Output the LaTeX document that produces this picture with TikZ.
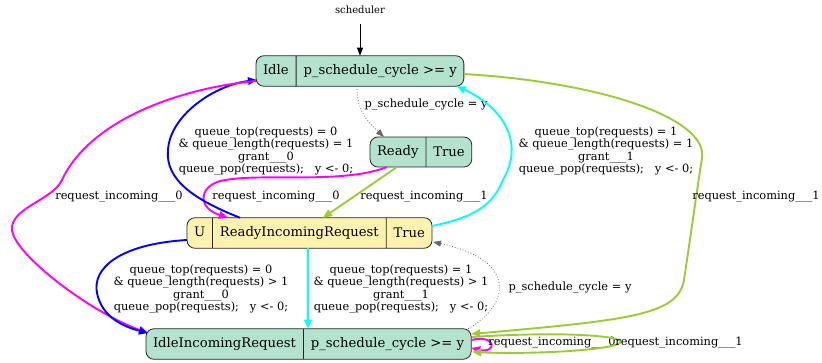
\documentclass[tikz,border=0pt]{standalone}
\usepackage{fontspec}
\setmainfont{DejaVu Serif}
\usetikzlibrary{shapes.multipart,arrows.meta,calc}

\definecolor{stategreen}{HTML}{B3E2CD}
\definecolor{stateyellow}{HTML}{FFF2AE}
\definecolor{lime}{HTML}{9ACD32}
\definecolor{tmagenta}{HTML}{FF00FF}
\definecolor{tblue}{HTML}{0000FF}
\definecolor{tcyan}{HTML}{00FFFF}

\begin{document}
\begin{tikzpicture}[x=1pt,y=-1pt,inner sep=0pt,outer sep=0pt,
state/.style={draw=black!85,line width=0.8pt,rectangle split,rectangle split horizontal,rectangle split parts=2,rounded corners=8pt,inner xsep=7pt,inner ysep=8.5pt,text height=9.5pt,text depth=3.5pt,font=\fontsize{13.2}{15}\selectfont},
lbl/.style={align=center,font=\fontsize{11.4}{12.3}\selectfont},
tr/.style={line width=1.9pt,-{Triangle[length=9pt,width=7.5pt]}},
guard/.style={dotted,line width=0.8pt,black!60,-{Triangle[length=8pt,width=6pt]}}]
\useasboundingbox (0,0) rectangle (822,362);

% states
\draw (256,71) node[state,fill=stategreen,anchor=west] (idle) {Idle\nodepart{two}p\_schedule\_cycle >= y};
\draw (370,152) node[state,fill=stategreen,anchor=west] (ready) {Ready\nodepart{two}True};
\draw (187,233) node[state,fill=stateyellow,anchor=west,rectangle split parts=3] (rir) {U\nodepart{two}ReadyIncomingRequest\nodepart{three}True};
\draw (146,344) node[state,fill=stategreen,anchor=west] (iir) {IdleIncomingRequest\nodepart{two}p\_schedule\_cycle >= y};
\draw (360,10) node[font=\fontsize{10}{12}\selectfont] (sched) {scheduler};

% entry
\draw[line width=0.8pt,-{Triangle[length=8pt,width=6pt]}] (sched.south) ++(0,10) -- (sched.south |- idle.north);

% transitions
\draw[guard] ($(idle.south)+(-3,0)$) .. controls (357,112) and (368,122) .. ($(ready.north west)+(14,0)$);
\draw (426,105) node[lbl] (g1) {p\_schedule\_cycle = y};

\draw[tr,tmagenta] ($(ready.south west)+(17,0)$) .. controls (340,185) and (260,172) .. (220,181) .. controls (198,188) and (198,208) .. ($(rir.north west)+(41,0)$);
\draw (276,197) node[lbl] (m1) {request\_incoming\_\_\_0};
\draw[tr,lime] ($(ready.south west)+(27,0)$) -- ($(rir.north west)+(136,0)$);
\draw (424,197) node[lbl] (n1) {request\_incoming\_\_\_1};

\draw[tr,tblue] ($(rir.north west)+(53,0)$) .. controls (195,200) and (165,180) .. (168,150) .. controls (170,115) and (215,85) .. ($(idle.west)+(1,9)$);
\draw (266,151) node[lbl] (b1) {queue\_top(requests) = 0\\\& queue\_length(requests) = 1\\grant\_\_\_0\\queue\_pop(requests);\ \ \ y <- 0;};
\draw[tr,tcyan] ($(rir.east)+(0,-7)$) .. controls (470,218) and (492,208) .. (503,180) .. controls (526,140) and (500,106) .. ($(idle.south east)+(-7,0)$);
\draw (606,151) node[lbl] (c1) {queue\_top(requests) = 1\\\& queue\_length(requests) = 1\\grant\_\_\_1\\queue\_pop(requests);\ \ \ y <- 0;};

\draw[tr,lime] ($(idle.east)+(0,3)$) .. controls (600,82) and (708,118) .. (702,158) .. controls (697,190) and (690,240) .. (684,280) .. controls (678,315) and (630,320) .. ($(iir.east)+(0,-10)$);
\draw (756,197) node[lbl] (n2) {request\_incoming\_\_\_1};
\draw[tr,tmagenta] ($(idle.west)+(0,10)$) .. controls (180,88) and (90,120) .. (62,180) .. controls (53,200) and (10,208) .. (12,230) .. controls (15,255) and (90,312) .. ($(iir.west)+(2,-11)$);
\draw (119,197) node[lbl] (m2) {request\_incoming\_\_\_0};

\draw[tr,tblue] ($(rir.west)+(0,7)$) .. controls (120,244) and (92,268) .. (97,293) .. controls (102,318) and (125,327) .. ($(iir.west)+(2,-11)$);
\draw (201,289) node[lbl] (b2) {queue\_top(requests) = 0\\\& queue\_length(requests) > 1\\grant\_\_\_0\\queue\_pop(requests);\ \ \ y <- 0;};
\coordinate (cyanout) at ($(rir.south west)+(121,0)$);
\draw[tr,tcyan] (cyanout) -- (cyanout |- iir.north);
\draw (401,289) node[lbl] (c2) {queue\_top(requests) = 1\\\& queue\_length(requests) > 1\\grant\_\_\_1\\queue\_pop(requests);\ \ \ y <- 0;};

\draw[guard] ($(iir.north east)+(-3,0)$) .. controls (510,305) and (518,260) .. ($(rir.east)+(1,9)$);
\draw (570,288) node[lbl] (g2) {p\_schedule\_cycle = y};

% self loops
\draw[tr,tmagenta] ($(iir.east)+(0,-4)$) .. controls (497,334) and (497,354) .. ($(iir.east)+(0,4)$);
\draw (552,343) node[lbl] (m3) {request\_incoming\_\_\_0};
\draw[tr,lime] ($(iir.east)+(1,-7)$) .. controls (580,330) and (640,338) .. (615,345) .. controls (590,352) and (520,354) .. ($(iir.east)+(1,8)$);
\draw (679,343) node[lbl] (n3) {request\_incoming\_\_\_1};
\end{tikzpicture}
\end{document}
